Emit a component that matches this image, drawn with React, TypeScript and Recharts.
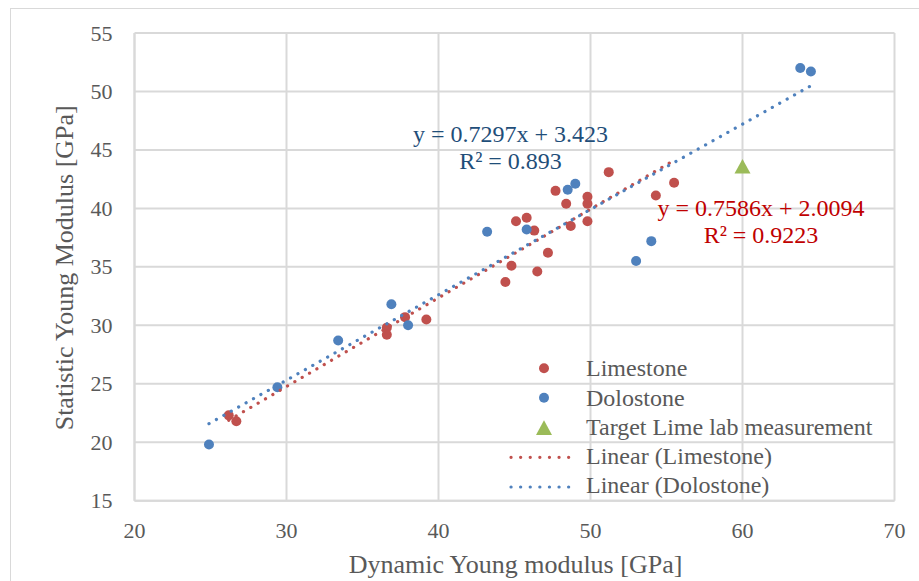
import React from 'react';
import { ScatterChart, Scatter, XAxis, YAxis, CartesianGrid, Label } from 'recharts';

const limestone = [
  { x: 26.2, y: 22.3 }, { x: 26.7, y: 21.8 }, { x: 36.6, y: 29.8 }, { x: 36.6, y: 29.2 },
  { x: 37.8, y: 30.7 }, { x: 39.2, y: 30.5 }, { x: 44.4, y: 33.7 }, { x: 44.8, y: 35.1 },
  { x: 45.1, y: 38.9 }, { x: 45.8, y: 39.2 }, { x: 46.3, y: 38.1 }, { x: 46.5, y: 34.6 },
  { x: 47.2, y: 36.2 }, { x: 47.7, y: 41.5 }, { x: 48.4, y: 40.4 }, { x: 48.7, y: 38.5 },
  { x: 49.8, y: 41.0 }, { x: 49.8, y: 40.4 }, { x: 49.8, y: 38.9 }, { x: 51.2, y: 43.1 },
  { x: 54.3, y: 41.1 }, { x: 55.5, y: 42.2 },
];
const dolostone = [
  { x: 24.9, y: 19.8 }, { x: 29.4, y: 24.7 }, { x: 33.4, y: 28.7 }, { x: 36.9, y: 31.8 },
  { x: 38.0, y: 30.0 }, { x: 43.2, y: 38.0 }, { x: 45.8, y: 38.2 }, { x: 48.5, y: 41.6 },
  { x: 49.0, y: 42.1 }, { x: 53.0, y: 35.5 }, { x: 54.0, y: 37.2 }, { x: 63.8, y: 52.0 },
  { x: 64.5, y: 51.7 },
];
const target = [{ x: 60.0, y: 43.4 }];
const limeTrend = [{ x: 26.2, y: 21.88 }, { x: 55.5, y: 44.11 }];
const doloTrend = [{ x: 24.9, y: 21.59 }, { x: 64.5, y: 50.49 }];

const xTicks = [20, 30, 40, 50, 60, 70];
const yTicks = [15, 20, 25, 30, 35, 40, 45, 50, 55];
const legendLabels = [
  'Limestone',
  'Dolostone',
  'Target Lime lab measurement',
  'Linear (Limestone)',
  'Linear (Dolostone)',
];
const eqDolo = ['y = 0.7297x + 3.423', 'R² = 0.893'];
const eqLime = ['y = 0.7586x + 2.0094', 'R² = 0.9223'];
const xTitle = 'Dynamic Young modulus [GPa]';
const yTitle = 'Statistic Young Modulus [GPa]';

const RED = '#C0504D';
const BLUE = '#4F81BD';
const GREEN = '#9BBB59';
const GRID = '#D9D9D9';
const TEXT = '#595959';
const FONT = '"Liberation Serif", "Times New Roman", serif';

const dot = (color: string) => (p: any) => <circle cx={p.cx} cy={p.cy} r={5} fill={color} />;
const tri = (p: any) => {
  const h = 14.6;
  const w = 16;
  const top = p.cy - (2 * h) / 3;
  const bot = p.cy + h / 3;
  return <path d={`M${p.cx},${top}L${p.cx + w / 2},${bot}L${p.cx - w / 2},${bot}Z`} fill={GREEN} />;
};
const none = () => <g />;

const XTick = (p: any) => (
  <text x={p.x} y={p.y + 16} textAnchor="middle" fill={TEXT} fontSize={22} style={{ fontFamily: FONT }}>
    {p.payload.value}
  </text>
);
const YTick = (p: any) => (
  <text x={p.x} y={p.y + 7.5} textAnchor="end" fill={TEXT} fontSize={22} style={{ fontFamily: FONT }}>
    {p.payload.value}
  </text>
);

export default function App() {
  const legendBase = [376, 405.5, 434.8, 464.1, 493.4];
  return (
    <div style={{ position: 'absolute', left: 0, top: 0, width: 919, height: 581, overflow: 'hidden', background: '#fff', fontFamily: FONT }}>
      <div style={{ position: 'absolute', left: 10, top: 8, width: 1200, height: 1200, border: '1.5px solid #D9D9D9' }} />
      <div style={{ position: 'absolute', left: 0, top: 0 }}>
        <ScatterChart width={919} height={581} margin={{ top: 33, right: 24.5, bottom: 0, left: 0 }} style={{ fontFamily: FONT }}>
          <CartesianGrid stroke={GRID} strokeWidth={2} />
          <XAxis
            type="number"
            dataKey="x"
            domain={[20, 70]}
            ticks={xTicks}
            height={80.3}
            tickLine={false}
            tickSize={0}
            tickMargin={21}
            axisLine={{ stroke: GRID, strokeWidth: 2 }}
            tick={<XTick />}
          >
            <Label
              content={() => (
                <text x={515.5} y={573} textAnchor="middle" fill={TEXT} fontSize={26} style={{ fontFamily: FONT }}>
                  {xTitle}
                </text>
              )}
            />
          </XAxis>
          <YAxis
            type="number"
            dataKey="y"
            domain={[15, 55]}
            ticks={yTicks}
            width={134.5}
            tickLine={false}
            tickSize={0}
            tickMargin={22}
            axisLine={{ stroke: GRID, strokeWidth: 2 }}
            tick={<YTick />}
          >
            <Label
              content={() => (
                <text transform="translate(73,267.8) rotate(-90)" textAnchor="middle" fill={TEXT} fontSize={26} style={{ fontFamily: FONT }}>
                  {yTitle}
                </text>
              )}
            />
          </YAxis>
          <Scatter name="Limestone" data={limestone} shape={dot(RED)} isAnimationActive={false} />
          <Scatter name="Dolostone" data={dolostone} shape={dot(BLUE)} isAnimationActive={false} />
          <Scatter name="Target Lime lab measurement" data={target} shape={tri} isAnimationActive={false} />
          <Scatter
            name="Linear (Limestone)"
            data={limeTrend}
            shape={none}
            line={{ stroke: RED, strokeWidth: 3.2, strokeDasharray: '0.1 8.4', strokeLinecap: 'round' }}
            isAnimationActive={false}
          />
          <Scatter
            name="Linear (Dolostone)"
            data={doloTrend}
            shape={none}
            line={{ stroke: BLUE, strokeWidth: 3.2, strokeDasharray: '0.1 8.4', strokeLinecap: 'round' }}
            isAnimationActive={false}
          />
        </ScatterChart>
      </div>
      <svg width={919} height={581} style={{ position: 'absolute', left: 0, top: 0, pointerEvents: 'none' }}>
        <g style={{ fontFamily: FONT }} fontSize={24}>
          <text x={510.5} y={141.7} textAnchor="middle" fill="#1F4E79">{eqDolo[0]}</text>
          <text x={510.5} y={169} textAnchor="middle" fill="#1F4E79">{eqDolo[1]}</text>
          <text x={761} y={216} textAnchor="middle" fill="#C00000">{eqLime[0]}</text>
          <text x={761} y={242.7} textAnchor="middle" fill="#C00000">{eqLime[1]}</text>
        </g>
        <g style={{ fontFamily: FONT }} fontSize={24} fill={TEXT}>
          {legendLabels.map((l, i) => (
            <text key={l} x={586} y={legendBase[i]}>{l}</text>
          ))}
          <circle cx={544} cy={368.3} r={5} fill={RED} />
          <circle cx={544} cy={397.7} r={5} fill={BLUE} />
          <path d="M544,420.3L552,434.9L536,434.9Z" fill={GREEN} />
          <line x1={511} y1={457.3} x2={578} y2={457.3} stroke={RED} strokeWidth={3.2} strokeDasharray="0.1 9.5" strokeLinecap="round" />
          <line x1={511} y1={487} x2={578} y2={487} stroke={BLUE} strokeWidth={3.2} strokeDasharray="0.1 9.5" strokeLinecap="round" />
        </g>
      </svg>
    </div>
  );
}
